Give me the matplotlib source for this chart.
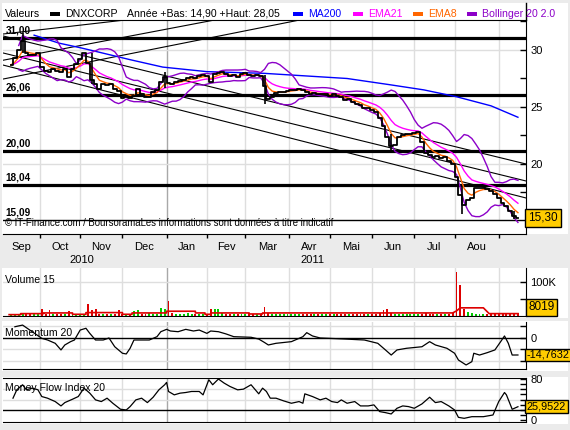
import matplotlib
matplotlib.use("Agg")
import matplotlib.pyplot as plt
import matplotlib.transforms as mtransforms
from matplotlib.patches import Rectangle
from matplotlib.lines import Line2D
import numpy as np
import pandas as pd

plt.rcParams["font.family"] = ["Liberation Sans", "DejaVu Sans"]

W, H = 570, 430

# sessions shown on the chart (10 Sep 2010 -> 15 Sep 2011)
dates = pd.bdate_range("2010-09-10", "2011-09-15")
month_names = ["Jan", "Fev", "Mar", "Avr", "Mai", "Jun", "Jul", "Aou", "Sep", "Oct", "Nov", "Dec"]

# DNXCORP close, one value every two sessions
close = [
    28.7, 29.3, 30.0, 30.8, 29.7, 29.6, 29.6, 29.7, 28.5, 28.2,
    28.1, 28.3, 28.2, 28.1, 28.3, 27.6, 28.3, 28.8, 29.2, 29.7,
    28.9, 27.4, 27.0, 26.6, 27.0, 26.9, 27.0, 26.6, 26.4, 25.8,
    25.9, 25.8, 26.0, 26.6, 26.1, 25.9, 25.9, 26.3, 26.5, 27.2,
    27.6, 27.1, 27.0, 27.2, 27.3, 27.4, 27.5, 27.6, 27.5, 27.7,
    27.8, 27.7, 27.2, 27.9, 28.0, 28.1, 27.9, 27.7, 27.8, 27.6,
    27.9, 28.0, 27.8, 27.7, 27.8, 27.7, 26.8, 25.7, 25.9, 26.2,
    26.3, 26.3, 26.4, 26.5, 26.5, 26.6, 26.5, 26.3, 26.1, 26.2,
    26.1, 26.1, 26.1, 26.0, 26.1, 26.0, 25.9, 25.6, 25.7, 25.4,
    25.3, 25.2, 24.9, 24.9, 24.7, 24.6, 24.0, 23.3, 22.4, 21.6,
    21.7, 22.4, 22.5, 22.6, 22.6, 22.7, 22.8, 21.9, 21.0, 20.8,
    20.6, 20.7, 20.5, 20.6, 20.3, 20.0, 18.9, 17.3, 16.4, 16.8,
    17.0, 17.9, 17.9, 17.9, 17.8, 17.6, 17.4, 17.0, 16.6, 16.3,
    15.9, 15.4, 15.3,
]

# the longer high/low wicks visible on the bars (session, low, high)
wick_day = [6, 42, 80, 132, 198, 235, 262]
wick_low = [29.7, 27.0, 26.7, 25.3, 21.2, 15.6, 15.2]
wick_high = [31.5, 29.7, 28.1, 27.8, 22.6, 18.0, 15.9]

# volume (thousands), same sampling as close
volume = [
    6, 7, 5, 6, 7, 6, 5, 6, 20, 6,
    17, 6, 5, 7, 6, 14, 6, 5, 6, 7,
    35, 19, 20, 7, 6, 5, 6, 7, 17, 6,
    5, 6, 14, 19, 7, 6, 8, 7, 6, 24,
    20, 45, 8, 7, 6, 7, 8, 6, 7, 6,
    7, 6, 20, 20, 20, 8, 7, 6, 5, 6,
    7, 6, 5, 6, 7, 6, 27, 8, 6, 5,
    6, 7, 5, 6, 5, 6, 7, 6, 5, 6,
    7, 6, 5, 6, 5, 6, 7, 6, 5, 6,
    7, 6, 5, 6, 7, 6, 9, 18, 20, 8,
    6, 5, 6, 7, 6, 5, 6, 7, 8, 6,
    5, 6, 7, 6, 7, 9, 130, 92, 22, 12,
    8, 6, 5, 7, 6, 5, 6, 7, 6, 5,
    6, 7, 8,
]

# 15-session volume average (session, thousands)
vol15_day = [-1, 5, 5, 17, 17, 32, 32, 39, 39, 58, 58, 63, 63, 81, 81, 96, 96, 101, 101,
             104, 104, 124, 124, 131, 131, 230, 232, 234, 246, 249, 264]
vol15_val = [4, 4, 7, 7, 9, 9, 5, 5, 10, 10, 5, 5, 9, 9, 14, 14, 9, 9, 5,
             5, 9, 9, 6, 6, 9, 9, 15, 24, 24, 7, 7]

# MA200 (session, price)
ma200_day = [12, 25, 36, 46, 62, 79, 102, 132, 175, 197, 215, 232, 250, 264]
ma200_val = [31.3, 30.6, 30.2, 29.8, 29.15, 28.5, 28.1, 27.95, 27.5, 26.96, 26.5, 25.9, 25.1, 24.1]

# Momentum 20 (%)
mom_day = [2, 6, 11, 16, 19, 23, 26, 28, 31, 33, 36, 39, 41, 44, 48, 51, 54, 58, 60, 62,
           64, 68, 72, 76, 78, 81, 83, 87, 91, 95, 98, 102, 104, 108, 112, 116, 125, 129, 132, 134,
           138, 146, 152, 154, 157, 161, 174, 184, 191, 195, 198, 201, 206, 214, 218, 221, 227, 231, 233, 237,
           240, 241, 244, 248, 252, 255, 257, 259, 261, 264]
mom_val = [9.1, 10.5, 4.9, -0.7, -2.1, -4.9, -10.5, -6.3, -3.5, -2.1, 6.3, 7.8, 3.5, -2.1, -2.1, -0.4, -7.8, -13.3, -13.9, -9.1,
           -2.1, -2.1, -2.1, 0.7, 4.9, 6.9, 5.5, 4.9, 6.9, 5.5, 6.3, 3.5, 5.5, 4.9, 3.0, 0.7, 0.2, -1.3, -4.2, -6.3,
           -4.9, -3.5, 0.7, 4.1, 1.3, -0.4, -1.3, -2.1, -4.9, -10.5, -14.8, -10.5, -9.1, -7.8, -3.5, -6.3, -9.1, -13.3, -19.0, -23.2,
           -20.4, -13.3, -14.8, -12.8, -10.5, -3.5, 1.3, -4.9, -14.8, -14.7632]

# Money Flow Index 20
mfi_day = [1, 3, 6, 8, 11, 14, 16, 19, 23, 26, 28, 32, 35, 38, 41, 44, 47, 50, 53, 57,
           60, 62, 65, 68, 71, 74, 77, 80, 81, 82, 85, 88, 91, 94, 98, 100, 103, 105, 108, 111,
           114, 118, 121, 125, 129, 131, 133, 135, 138, 142, 146, 150, 152, 153, 157, 161, 164, 167, 170, 172,
           175, 179, 182, 186, 189, 192, 195, 198, 201, 204, 207, 210, 214, 218, 221, 224, 228, 231, 233, 236,
           240, 246, 251, 254, 257, 258, 261, 264]
mfi_val = [42.6, 59, 68.8, 59, 62.2, 59, 45.8, 42.6, 36, 27.5, 34, 40.6, 45.8, 62.2, 52.4, 39.3, 36, 42.6, 32.7, 21,
           19.6, 26.2, 39.3, 42.6, 34, 44.5, 58.9, 68.8, 73.4, 55.7, 49.1, 52.4, 53.7, 55.7, 55.7, 49.1, 78.6, 68.8, 80, 72,
           65.5, 58.9, 60.2, 68.8, 51.1, 62.2, 55.7, 42.6, 42.6, 37.3, 32.7, 36, 32.7, 51.1, 45.8, 39.3, 42.6, 36, 34, 39.3,
           32.7, 36, 27.5, 27.5, 29.5, 16.4, 14.4, 11.8, 22.9, 27.5, 26.2, 22.9, 31.4, 44.5, 34, 36, 27.5, 19.6, 5.2, 3.3,
           6.5, 6.5, 9.8, 36, 53.7, 49.1, 21, 25.9522]

# drawn support / resistance levels and their tags
levels = [31.05, 26.05, 21.1, 18.18]
level_tags = ["31,00", "26,06", "20,00", "18,04"]
floor_level = 15.13
floor_tag = "15,09"

# trend lines: (session, price) -> (session, price)
trend_lines = [
    ((-4.2, 31.23), (268.2, 20.0)),
    ((-4.2, 29.74), (268.2, 18.51)),
    ((-4.2, 28.68), (268.2, 17.02)),
    ((-4.2, 31.4), (59.4, 32.63)),
    ((-4.2, 29.1), (106.0, 32.63)),
    ((-4.2, 27.45), (150.3, 32.63)),
]

# ---------------------------------------------------------------
close_day = np.arange(len(close)) * 2
s = pd.Series(close, dtype=float)
ema8 = s.ewm(alpha=1 - (1 - 2 / 9) ** 2, adjust=False).mean()
ema21 = s.ewm(alpha=1 - (1 - 2 / 22) ** 2, adjust=False).mean()
bb_mid = s.rolling(10, min_periods=3).mean()
bb_sd = s.rolling(10, min_periods=3).std(ddof=0)
bb_up = bb_mid + 2 * bb_sd
bb_lo = bb_mid - 2 * bb_sd

XMIN, XMAX = -4.2, 268.2
GRID = "#dedede"
GOLD = "#ffcc00"
FS = 7.6

fig = plt.figure(figsize=(W / 100, H / 100), dpi=100, facecolor="#ebebeb")


def box(l, t, r, b):
    return [l / W, 1 - b / H, (r - l) / W, (b - t) / H]


for t, b in [(3, 234), (268, 318), (321, 371), (377, 424)]:
    fig.patches.append(Rectangle((2 / W, 1 - b / H), 566 / W, (b - t) / H,
                                 transform=fig.transFigure, facecolor="white",
                                 edgecolor="none", zorder=-5))

ax_p = fig.add_axes(box(3, 20, 526, 234))
ax_v = fig.add_axes(box(3, 268, 526, 316))
ax_m = fig.add_axes(box(3, 322, 526, 369))
ax_f = fig.add_axes(box(3, 378, 526, 421.7))

# month boundaries
mon = dates.month.values
starts = [i for i in range(1, len(dates)) if mon[i] != mon[i - 1]]
jan_start = [i for i in starts if dates[i].month == 1]

for ax in (ax_p, ax_v, ax_m, ax_f):
    ax.set_xlim(XMIN, XMAX)
    ax.set_facecolor("none")
    ax.spines["left"].set_visible(False)
    ax.spines["top"].set_visible(ax in (ax_p, ax_f))
    ax.yaxis.tick_right()
    ax.tick_params(axis="y", which="both", direction="in", length=4, width=1,
                   labelsize=8, pad=3)
    for i in starts:
        ax.axvline(i, color="#a8a8a8" if i in jan_start else GRID, lw=1, zorder=0)
    if ax is not ax_p:
        ax.set_xticks([])

# ---- price panel
ax_p.set_ylim(13.86, 32.63)
ax_p.set_yticks([20, 25, 30])
ax_p.set_yticks([17.5, 22.5, 27.5, 32.5], minor=True)
for v in (20, 25, 30):
    ax_p.axhline(v, color=GRID, lw=1, zorder=0)
ax_p.axhspan(13.86, floor_level, color="white", zorder=0.5)

for (d0, p0), (d1, p1) in trend_lines:
    ax_p.plot([d0, d1], [p0, p1], color="black", lw=0.8, zorder=2)
lt = mtransforms.blended_transform_factory(ax_p.transAxes, ax_p.transData)
for lv, tag in zip(levels, level_tags):
    ax_p.axhline(lv, color="black", lw=2.3, zorder=3)
    ax_p.text(0.005, lv + 0.22, tag, transform=lt, fontsize=7.2, fontweight="bold",
              va="bottom", zorder=6)
ax_p.axhline(floor_level, color="black", lw=1, zorder=3)
ax_p.text(0.005, floor_level + 0.22, floor_tag, transform=lt, fontsize=7.2, fontweight="bold",
          va="bottom", zorder=6)

ax_p.plot(ma200_day, ma200_val, color="#0000ff", lw=1, zorder=4)
ax_p.plot(close_day, bb_up, color="#8c00c8", lw=1, zorder=4)
ax_p.plot(close_day, bb_lo, color="#8c00c8", lw=1, zorder=4)
ax_p.plot(close_day, ema21, color="#ff00ff", lw=1, zorder=4)
ax_p.plot(close_day, ema8, color="#ff6600", lw=1, zorder=4)
ax_p.plot(close_day, close, color="black", lw=1.3, drawstyle="steps-mid", zorder=5)
ax_p.vlines(wick_day, wick_low, wick_high, color="black", lw=1.2, zorder=5)

ax_p.text(0.004, 0.03, "\u00a9 IT-Finance.com / BoursoramaLes informations sont données à titre indicatif",
          transform=ax_p.transAxes, fontsize=6.9, va="bottom", zorder=6)

# month ticks and labels
ax_p.set_xticks(starts)
ax_p.set_xticklabels([])
ax_p.tick_params(axis="x", which="major", direction="out", length=3, width=1)
edges = [XMIN] + starts + [XMAX]
centers, names = [], []
for k in range(len(edges) - 1):
    if edges[k + 1] - edges[k] >= 15:
        centers.append((edges[k] + edges[k + 1]) / 2)
        first = dates[max(int(np.ceil(edges[k])), 0)]
        names.append(month_names[first.month - 1])
ax_p.set_xticks(centers, minor=True)
ax_p.set_xticklabels(names, minor=True)
ax_p.tick_params(axis="x", which="minor", length=0, labelsize=8, pad=6)
yr = mtransforms.blended_transform_factory(ax_p.transData, ax_p.transAxes)
ax_p.text(37, -0.122, "2010", transform=yr, ha="center", va="center", fontsize=8)
ax_p.text(157, -0.122, "2011", transform=yr, ha="center", va="center", fontsize=8)

rt = mtransforms.blended_transform_factory(ax_p.transAxes, ax_p.transData)
ax_p.text(1.004, close[-1], "15,30", transform=rt, fontsize=8.5, va="center", ha="left",
          bbox=dict(boxstyle="square,pad=0.25", fc=GOLD, ec="black", lw=1), zorder=7)

# ---- volume panel
ax_v.set_ylim(0, 141)
ax_v.set_yticks([100])
ax_v.set_yticklabels(["100K"])
ax_v.set_yticks([50], minor=True)
ax_v.axhline(100, color=GRID, lw=1, zorder=0)
vcol = ["#00cc00"] + ["#dd0000" if close[i] < close[i - 1] else "#00cc00" for i in range(1, len(close))]
ax_v.bar(close_day, volume, width=1.0, color=vcol, zorder=2)
ax_v.plot(vol15_day, vol15_val, color="#dd0000", lw=1.2, zorder=3)
ax_v.text(0.004, 0.75, "Volume 15", transform=ax_v.transAxes, fontsize=FS, va="center")
rv = mtransforms.blended_transform_factory(ax_v.transAxes, ax_v.transData)
ax_v.text(1.004, volume[-1], "8019", transform=rv, fontsize=8.5, va="bottom", ha="left",
          bbox=dict(boxstyle="square,pad=0.2", fc=GOLD, ec="black", lw=1), zorder=7)

# ---- momentum panel
ax_m.set_ylim(-26.6, 13.1)
ax_m.set_yticks([0])
ax_m.set_yticks([10, -10, -20], minor=True)
for v in (10, -10, -20):
    ax_m.axhline(v, color=GRID, lw=1, zorder=0)
ax_m.axhline(0, color="black", lw=1, zorder=2)
ax_m.plot(mom_day, mom_val, color="black", lw=0.9, zorder=3)
ax_m.text(0.004, 0.77, "Momentum 20", transform=ax_m.transAxes, fontsize=FS, va="center")
rm = mtransforms.blended_transform_factory(ax_m.transAxes, ax_m.transData)
ax_m.text(1.0015, mom_val[-1], "-14,7632", transform=rm, fontsize=7.8, va="center", ha="left",
          bbox=dict(boxstyle="square,pad=0.12", fc=GOLD, ec="black", lw=1), zorder=7)

# ---- money flow panel
ax_f.set_ylim(-3.3, 82)
ax_f.set_yticks([0, 80])
ax_f.set_yticks(range(10, 80, 10), minor=True)
for v in (40, 60):
    ax_f.axhline(v, color=GRID, lw=1, zorder=0)
ax_f.axhline(20, color="black", lw=1, zorder=2)
ax_f.plot(mfi_day, mfi_val, color="black", lw=0.9, zorder=3)
ax_f.text(0.004, 0.77, "Money Flow Index 20", transform=ax_f.transAxes, fontsize=FS, va="center")
rf = mtransforms.blended_transform_factory(ax_f.transAxes, ax_f.transData)
ax_f.text(1.0015, mfi_val[-1], "25,9522", transform=rf, fontsize=7.8, va="center", ha="left",
          bbox=dict(boxstyle="square,pad=0.15", fc=GOLD, ec="black", lw=1), zorder=7)

# ---- header / legend
fig.add_artist(Line2D([526 / W, 526 / W], [1 - 3 / H, 1 - 20 / H], color="black", lw=1))
ty = 1 - 14 / H
fig.text(5 / W, ty, "Valeurs", fontsize=FS, va="center")
legend = [
    (50, "black", "DNXCORP", "black"),
    (293, "#0000ff", "MA200", "#0000ff"),
    (353, "#ff00ff", "EMA21", "#ff00ff"),
    (413, "#ff6600", "EMA8", "#ff6600"),
    (467, "#8c00c8", "Bollinger 20 2.0", "#8c00c8"),
]
for x0, c, lab, tc in legend:
    fig.patches.append(Rectangle((x0 / W, 1 - 16 / H), 10 / W, 4 / H,
                                 transform=fig.transFigure, facecolor=c, edgecolor="none"))
    fig.text((x0 + 15) / W, ty, lab, fontsize=FS, va="center", color=tc)
fig.text(127 / W, ty, "Année +Bas: 14,90 +Haut: 28,05", fontsize=FS, va="center")

fig.savefig("out.png", dpi=100, facecolor=fig.get_facecolor())
